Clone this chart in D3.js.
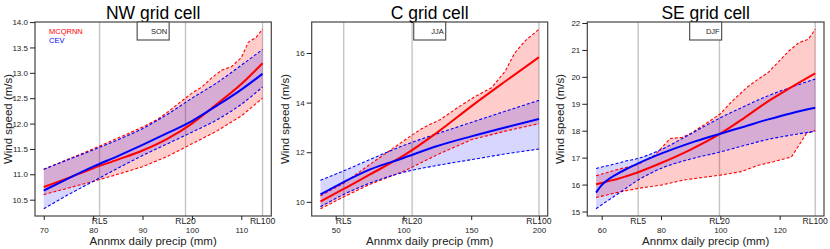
<!DOCTYPE html>
<html lang="en">
<head>
<meta charset="utf-8">
<script src="https://d3js.org/d3.v7.min.js"></script>
<style>
  body { margin: 0; background: #fff; }
  text { font-family: "Liberation Sans", Arial, sans-serif; fill: #222; }
</style>
</head>
<body>
<div id="chart"></div>
<script>
var width = 830, height = 249;

var titles = ["NW grid cell", "C grid cell", "SE grid cell"];
var seasons = ["SON", "JJA", "DJF"];
var rlNames = ["RL5", "RL20", "RL100"];

// ---- NW grid cell ----
var nwX        = [70, 75, 80, 85, 90, 95, 100, 105, 110, 114.3];
var nwRedMid   = [10.75, 10.93, 11.12, 11.29, 11.47, 11.7, 12.0, 12.38, 12.78, 13.19];
var nwBlueMid  = [10.68, 10.92, 11.15, 11.36, 11.58, 11.81, 12.05, 12.35, 12.67, 12.98];
var nwBlueHi   = [11.1, 11.29, 11.48, 11.68, 11.9, 12.18, 12.5, 12.8, 13.15, 13.46];
var nwBlueLo   = [10.32, 10.6, 10.86, 11.12, 11.37, 11.6, 11.83, 12.07, 12.38, 12.72];
var nwRedHiX   = [70, 80, 90, 93, 95, 98, 100, 102, 104, 106, 108, 110, 111.4, 113, 114.3];
var nwRedHi    = [11.1, 11.5, 11.93, 12.08, 12.22, 12.45, 12.6, 12.72, 12.9, 13.05, 13.12, 13.3, 13.6, 13.7, 13.86];
var nwRedLoX   = [70, 75, 80, 85, 90, 95, 100, 105, 110, 114.3];
var nwRedLo    = [10.6, 10.73, 10.86, 11.0, 11.15, 11.35, 11.6, 11.85, 12.15, 12.5];
var nwRL       = [81.3, 98.7, 114.3];

// ---- C grid cell ----
var cX         = [38.75, 55.9, 75, 100, 125, 150, 175, 200];
var cRedMid    = [10.02, 10.52, 11.1, 11.86, 12.8, 13.85, 14.85, 15.83];
var cBlueMid   = [10.3, 10.8, 11.3, 11.77, 12.25, 12.64, 13.0, 13.34];
var cBlueHi    = [10.87, 11.25, 11.7, 12.27, 12.75, 13.2, 13.65, 14.09];
var cBlueLo    = [9.8, 10.3, 10.75, 11.19, 11.47, 11.7, 11.93, 12.13];
var cRedHiX    = [38.75, 55.9, 75, 100, 106.4, 115, 127, 140, 153, 165, 175, 182, 190, 200];
var cRedHi     = [10.25, 10.75, 11.5, 12.45, 12.7, 13.0, 13.31, 13.8, 14.25, 14.6, 15.26, 15.99, 16.5, 16.96];
var cRedLoX    = [38.75, 55.9, 75, 100, 125, 150, 175, 200];
var cRedLo     = [9.72, 10.2, 10.7, 11.23, 11.9, 12.5, 12.85, 13.15];
var cRL        = [55.9, 106.4, 200];

// ---- SE grid cell ----
var seX        = [58.1, 60, 62, 65, 68, 72.3, 80, 90, 100, 108, 116.2, 124, 132];
var seRedMid   = [16.01, 16.06, 16.12, 16.2, 16.3, 16.46, 16.8, 17.3, 17.89, 18.47, 19.1, 19.62, 20.13];
var seBlueMid  = [15.7, 15.98, 16.17, 16.38, 16.56, 16.79, 17.15, 17.55, 17.89, 18.15, 18.42, 18.65, 18.85];
var seBlueHi   = [16.6, 16.65, 16.7, 16.78, 16.87, 16.97, 17.3, 17.88, 18.48, 18.9, 19.3, 19.62, 19.92];
var seBlueLo   = [15.1, 15.25, 15.4, 15.62, 15.85, 16.17, 16.6, 16.95, 17.21, 17.45, 17.68, 17.84, 17.98];
var seRedHiX   = [58.1, 65, 72.3, 78, 83.1, 87, 90, 95.1, 100, 104, 109, 112, 116.2, 120, 123, 126.5, 129.7, 132];
var seRedHi    = [16.33, 16.55, 16.75, 17.1, 17.71, 17.75, 17.9, 18.26, 18.63, 19.1, 19.61, 19.85, 20.17, 20.6, 20.95, 21.27, 21.4, 21.77];
var seRedLoX   = [58.1, 65, 72.3, 80, 87.7, 95, 100, 107, 112.8, 118, 124, 126.5, 129, 132];
var seRedLo    = [15.52, 15.7, 15.86, 15.98, 16.17, 16.28, 16.35, 16.48, 16.72, 16.85, 17.03, 17.46, 17.89, 18.01];
var seRL       = [72.3, 99.7, 132];

var xTicks = [[70, 80, 90, 100, 110], [50, 100, 150, 200], [60, 80, 100, 120]];
var yTicks = [[10.5, 11, 11.5, 12, 12.5, 13, 13.5, 14], [10, 12, 14, 16], [15, 16, 17, 18, 19, 20, 21, 22]];
var yFormats = [".1f", "d", "d"];

var panelsData = [
  { mid: [nwX, nwRedMid, nwBlueMid], blueBand: [nwX, nwBlueLo, nwBlueHi],
    redHi: [nwRedHiX, nwRedHi], redLo: [nwRedLoX, nwRedLo], rl: nwRL },
  { mid: [cX, cRedMid, cBlueMid], blueBand: [cX, cBlueLo, cBlueHi],
    redHi: [cRedHiX, cRedHi], redLo: [cRedLoX, cRedLo], rl: cRL },
  { mid: [seX, seRedMid, seBlueMid], blueBand: [seX, seBlueLo, seBlueHi],
    redHi: [seRedHiX, seRedHi], redLo: [seRedLoX, seRedLo], rl: seRL }
];

// plot regions (pixels)
var boxes = [
  { left: 35, right: 271.3 },
  { left: 311.7, right: 547.7 },
  { left: 587.3, right: 824 }
];
var plotTop = 22, plotBottom = 216;

var svg = d3.select("#chart").append("svg")
  .attr("width", width)
  .attr("height", height);

function pad(ext) {
  var d = (ext[1] - ext[0]) * 0.04;
  return [ext[0] - d, ext[1] + d];
}

// merge two x/y series into band polygon points
function bandPoints(xLo, yLo, xHi, yHi, x, y) {
  var pts = xHi.map(function(v, i) { return [x(v), y(yHi[i])]; });
  var lo = xLo.map(function(v, i) { return [x(v), y(yLo[i])]; }).reverse();
  return pts.concat(lo);
}

panelsData.forEach(function(p, k) {
  var b = boxes[k];
  var allX = p.mid[0].concat(p.redHi[0], p.redLo[0]);
  var allY = p.mid[1].concat(p.mid[2], p.blueBand[1], p.blueBand[2], p.redHi[1], p.redLo[1]);

  var x = d3.scaleLinear().domain(pad(d3.extent(allX))).range([b.left, b.right]);
  var y = d3.scaleLinear().domain(pad(d3.extent(allY))).range([plotBottom, plotTop]);

  var g = svg.append("g");

  // return level lines
  g.selectAll("line.rl")
    .data(p.rl).enter().append("line")
    .attr("x1", function(d) { return x(d); })
    .attr("x2", function(d) { return x(d); })
    .attr("y1", plotTop).attr("y2", plotBottom)
    .style("stroke", "#c4c4c4")
    .style("stroke-width", 1.4);

  // bands
  var poly = d3.line().curve(d3.curveLinear);
  g.append("path")
    .attr("d", poly(bandPoints(p.redLo[0], p.redLo[1], p.redHi[0], p.redHi[1], x, y)) + "Z")
    .style("fill", "rgba(255,0,0,0.2)");
  g.append("path")
    .attr("d", poly(bandPoints(p.blueBand[0], p.blueBand[1], p.blueBand[0], p.blueBand[2], x, y)) + "Z")
    .style("fill", "rgba(0,0,255,0.16)");

  function series(xs, ys, color, dashed, w, smooth) {
    var ln = d3.line()
      .x(function(d) { return x(d[0]); })
      .y(function(d) { return y(d[1]); })
      .curve(smooth ? d3.curveMonotoneX : d3.curveLinear);
    g.append("path")
      .attr("d", ln(xs.map(function(v, i) { return [v, ys[i]]; })))
      .style("fill", "none")
      .style("stroke", color)
      .style("stroke-width", w)
      .style("stroke-dasharray", dashed ? "3,2" : null);
  }

  series(p.redHi[0], p.redHi[1], "#ff0000", true, 1.1, false);
  series(p.redLo[0], p.redLo[1], "#ff0000", true, 1.1, false);
  series(p.blueBand[0], p.blueBand[2], "#0000ff", true, 1.1, true);
  series(p.blueBand[0], p.blueBand[1], "#0000ff", true, 1.1, true);
  series(p.mid[0], p.mid[1], "#ff0000", false, 2, true);
  series(p.mid[0], p.mid[2], "#0000ff", false, 2, true);

  // frame
  g.append("rect")
    .attr("x", b.left).attr("y", plotTop)
    .attr("width", b.right - b.left).attr("height", plotBottom - plotTop)
    .style("fill", "none").style("stroke", "#444").style("stroke-width", 1.2);

  // axes
  var yAxis = d3.axisLeft(y).tickValues(yTicks[k]).tickSize(5).tickPadding(2)
    .tickFormat(d3.format(yFormats[k]));
  var ya = g.append("g").attr("transform", "translate(" + b.left + ",0)").call(yAxis);
  var xAxis = d3.axisBottom(x).tickValues(xTicks[k]).tickSize(4).tickPadding(7);
  var xa = g.append("g").attr("transform", "translate(0," + plotBottom + ")").call(xAxis);
  [ya, xa].forEach(function(a) {
    a.select(".domain").remove();
    a.selectAll("line").style("stroke", "#222");
    a.selectAll("text").style("font-size", "8px").style("font-family", "'Liberation Sans', Arial, sans-serif").attr("fill", "#222");
  });

  // RL labels
  g.selectAll("text.rlab")
    .data(p.rl).enter().append("text")
    .attr("x", function(d) { return x(d); })
    .attr("y", 224)
    .attr("text-anchor", "middle")
    .style("font-size", "8.6px")
    .text(function(d, i) { return rlNames[i]; });

  var cx = (b.left + b.right) / 2;

  // title
  g.append("text")
    .attr("x", cx).attr("y", 19)
    .attr("text-anchor", "middle")
    .style("font-size", "17.5px")
    .style("fill", "#000")
    .text(titles[k]);

  // season legend box
  g.append("rect")
    .attr("x", cx - 16).attr("y", plotTop)
    .attr("width", 32).attr("height", 18)
    .style("fill", "#fff").style("stroke", "#555").style("stroke-width", 1.2);
  g.append("text")
    .attr("x", cx + 14).attr("y", plotTop + 12)
    .attr("text-anchor", "end")
    .style("font-size", "7.5px")
    .text(seasons[k]);

  // axis titles
  g.append("text")
    .attr("x", cx).attr("y", 245)
    .attr("text-anchor", "middle")
    .style("font-size", "11.5px")
    .text("Annmx daily precip (mm)");
  g.append("text")
    .attr("transform", "translate(" + (b.left - 23) + "," + ((plotTop + plotBottom) / 2) + ") rotate(-90)")
    .attr("text-anchor", "middle")
    .style("font-size", "11.5px")
    .text("Wind speed (m/s)");
});

// method legend
var legend = svg.append("g");
legend.append("text").attr("x", 49).attr("y", 34)
  .style("font-size", "7.5px").style("fill", "#ff0000").text("MCQRNN");
legend.append("text").attr("x", 49).attr("y", 43)
  .style("font-size", "7.5px").style("fill", "#0000ff").text("CEV");
</script>
</body>
</html>
